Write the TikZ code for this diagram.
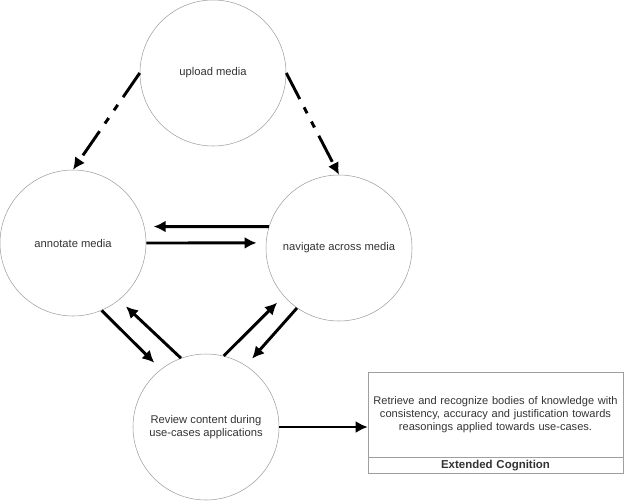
\documentclass[tikz,border=0pt]{standalone}
\usepackage{fontspec}
\setmainfont{Liberation Sans}
\usetikzlibrary{arrows.meta,positioning}

\begin{document}
\begin{tikzpicture}[x=0.75pt, y=-0.75pt,
		stage/.style   = {circle, draw=gray!75, thin, minimum size=109.5pt, inner sep=0pt, align=center, text=black!80, font=\fontsize{8.4}{9.5}\selectfont},
		infobox/.style = {rectangle, draw=gray!75, thin, minimum width=191.25pt, text width=184pt, align=center, text=black!80, font=\fontsize{8.3}{9.5}\selectfont},
		flow/.style    = {->, line width=2.2pt, shorten >=7pt},
		hint/.style    = {->, line width=2.2pt, dash pattern=on 22pt off 7pt on 5pt off 7pt on 5pt off 7pt},
		>={Latex[length=9pt,width=9pt]}]
		
		\useasboundingbox (0,0) rectangle (624,500);
		
		% the four stages, placed at coordinates
		\node[stage] (upload)   at (213,73)  {upload media};
		\node[stage] (annotate) at (73,243)  {annotate media};
		\node[stage] (navigate) at (339,248) {navigate across media};
		\node[stage] (review)   at (206,427) {Review content during\\use-cases applications};
		
		% the box on the right, relatively positioned title
		\node[infobox, minimum height=63.75pt] (cog) at (495.5,414.5) {Retrieve and recognize bodies of knowledge with\\consistency, accuracy and justification towards\\reasonings applied towards use-cases.};
		\node[infobox, minimum height=12pt, inner ysep=1pt, below=0pt of cog, font=\fontsize{8.6}{9.5}\selectfont\bfseries] (cogtitle) {Extended Cognition};
		
		% dash-dotted lines from the upload stage
		\draw[hint] (upload.west) -- (annotate.north);
		\draw[hint] (upload.east) -- (navigate.north);
		
		% solid lines between the stages
		\foreach \from/\to in {navigate.163/annotate.13, annotate.0/navigate.176, annotate.293/review.128, review.110/annotate.309, review.76/navigate.221, navigate.235/review.57}
		\draw[flow] (\from) -- (\to);
		
		\draw[flow, shorten >=0pt] (review.east) -- (cog.west |- review.east);
		
	\end{tikzpicture}
\end{document}
